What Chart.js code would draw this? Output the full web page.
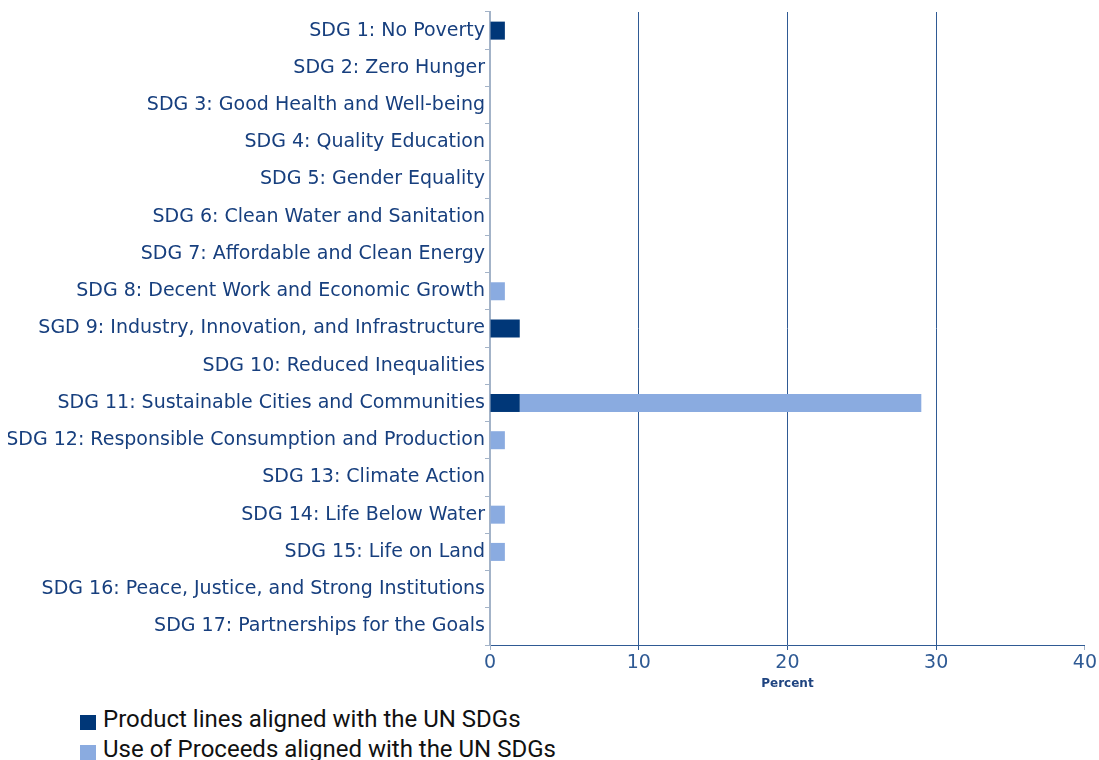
<!DOCTYPE html>
<html>
<head>
<meta charset="utf-8">
<script src="https://cdn.jsdelivr.net/npm/chart.js@4/dist/chart.umd.min.js"></script>
<style>
    body { margin: 0; background: #fff; overflow: hidden; }
    #wrap { position: relative; width: 1099px; height: 760px; }
    #grafico { position: absolute; left: 0; top: 0; }
    #legenda { position: absolute; left: 80px; top: 704px; font-family: Roboto, sans-serif; font-size: 24px; color: #111; }
    #legenda .item { height: 30px; line-height: 30px; white-space: nowrap; }
    #legenda .box { display: inline-block; width: 16px; height: 15px; margin-right: 7px; vertical-align: -3px; }
</style>
</head>
<body>
<div id="wrap">
    <canvas id="grafico" width="1099" height="700"></canvas>
    <div id="legenda"></div>
</div>
<script>
var categorias = [
    "SDG 1: No Poverty",
    "SDG 2: Zero Hunger",
    "SDG 3: Good Health and Well-being",
    "SDG 4: Quality Education",
    "SDG 5: Gender Equality",
    "SDG 6: Clean Water and Sanitation",
    "SDG 7: Affordable and Clean Energy",
    "SDG 8: Decent Work and Economic Growth",
    "SGD 9: Industry, Innovation, and Infrastructure",
    "SDG 10: Reduced Inequalities",
    "SDG 11: Sustainable Cities and Communities",
    "SDG 12: Responsible Consumption and Production",
    "SDG 13: Climate Action",
    "SDG 14: Life Below Water",
    "SDG 15: Life on Land",
    "SDG 16: Peace, Justice, and Strong Institutions",
    "SDG 17: Partnerships for the Goals"
];
var productLines = [1, 0, 0, 0, 0, 0, 0, 0, 2, 0, 2, 0, 0, 0, 0, 0, 0];
var useOfProceeds = [0, 0, 0, 0, 0, 0, 0, 1, 0, 0, 27, 1, 0, 1, 1, 0, 0];
var xTicks = [0, 10, 20, 30, 40];

var escuro = "#003778";
var claro = "#8aabe0";
var linha = "#2f5a94";
var eixoClaro = "#a3b3c8";

var grafico = new Chart(document.getElementById("grafico"), {
    type: "bar",
    data: {
        labels: categorias,
        datasets: [
            {
                label: "Product lines aligned with the UN SDGs",
                data: productLines,
                backgroundColor: escuro,
                borderWidth: 0,
                inflateAmount: 0,
                barThickness: 18
            },
            {
                label: "Use of Proceeds aligned with the UN SDGs",
                data: useOfProceeds,
                backgroundColor: claro,
                borderWidth: 0,
                inflateAmount: 0,
                barThickness: 18
            }
        ]
    },
    options: {
        indexAxis: "y",
        responsive: false,
        animation: false,
        layout: { padding: { top: 12, right: 14, bottom: 0, left: 8 } },
        plugins: {
            legend: { display: false },
            tooltip: { enabled: false }
        },
        scales: {
            x: {
                stacked: true,
                min: 0,
                max: 40,
                afterBuildTicks: function (scale) {
                    scale.ticks = xTicks.map(function (v) { return { value: v }; });
                },
                afterFit: function (scale) {
                    scale.height = 55;
                },
                ticks: {
                    color: linha,
                    padding: 2,
                    font: { family: "DejaVu Sans", size: 19 }
                },
                grid: {
                    color: function (ctx) {
                        if (ctx.tick && (ctx.tick.value === 0 || ctx.tick.value === 40)) {
                            return "rgba(0,0,0,0)";
                        }
                        return linha;
                    },
                    tickColor: function (ctx) {
                        if (ctx.tick && (ctx.tick.value === 0 || ctx.tick.value === 40)) {
                            return eixoClaro;
                        }
                        return linha;
                    },
                    tickLength: 5,
                    lineWidth: 1
                },
                border: { color: linha, width: 1 },
                title: {
                    display: true,
                    text: "Percent",
                    color: "#1f4480",
                    padding: { top: 0, bottom: 9 },
                    font: { family: "DejaVu Sans", size: 12, weight: "bold" }
                }
            },
            y: {
                stacked: true,
                afterFit: function (scale) {
                    scale.width = 482;
                },
                ticks: {
                    color: "#173f7e",
                    padding: 0,
                    font: { family: "DejaVu Sans", size: 19 }
                },
                grid: {
                    drawOnChartArea: false,
                    drawTicks: true,
                    tickLength: 5,
                    tickColor: eixoClaro
                },
                border: { color: eixoClaro, width: 2 }
            }
        }
    }
});

// legenda em html, uma linha por serie
var html = "";
grafico.data.datasets.forEach(function (ds) {
    html += '<div class="item"><span class="box" style="background:' + ds.backgroundColor + '"></span>' + ds.label + "</div>";
});
document.getElementById("legenda").innerHTML = html;
</script>
</body>
</html>
